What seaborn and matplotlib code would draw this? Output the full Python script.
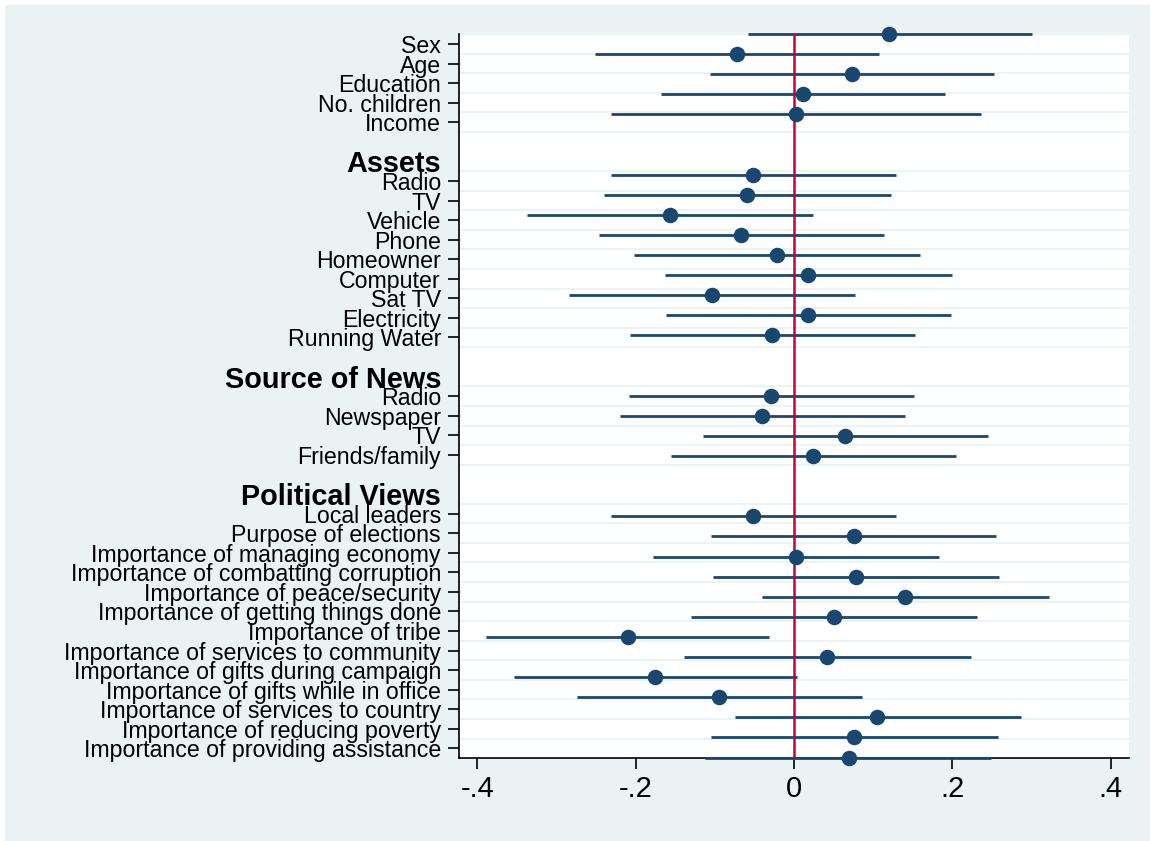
import numpy as np
import pandas as pd
import matplotlib
matplotlib.use("Agg")
import matplotlib.pyplot as plt
from matplotlib.patches import Rectangle
import seaborn as sns

# ---------------- data ----------------
demo_labels = ["Sex", "Age", "Education", "No. children", "Income"]
demo_coef = [0.120, -0.072, 0.073, 0.011, 0.002]
demo_lo = [-0.058, -0.251, -0.106, -0.168, -0.231]
demo_hi = [0.301, 0.107, 0.253, 0.191, 0.236]

assets_header = "Assets"
assets_labels = ["Radio", "TV", "Vehicle", "Phone", "Homeowner", "Computer",
                 "Sat TV", "Electricity", "Running Water"]
assets_coef = [-0.052, -0.059, -0.157, -0.067, -0.021, 0.018, -0.104, 0.018, -0.028]
assets_lo = [-0.231, -0.240, -0.337, -0.246, -0.202, -0.163, -0.284, -0.162, -0.207]
assets_hi = [0.129, 0.122, 0.024, 0.114, 0.159, 0.200, 0.077, 0.198, 0.153]

news_header = "Source of News"
news_labels = ["Radio", "Newspaper", "TV", "Friends/family"]
news_coef = [-0.029, -0.040, 0.064, 0.024]
news_lo = [-0.208, -0.220, -0.115, -0.155]
news_hi = [0.152, 0.140, 0.245, 0.205]

pol_header = "Political Views"
pol_labels = ["Local leaders", "Purpose of elections",
              "Importance of managing economy",
              "Importance of combatting corruption",
              "Importance of peace/security",
              "Importance of getting things done",
              "Importance of tribe",
              "Importance of services to community",
              "Importance of gifts during campaign",
              "Importance of gifts while in office",
              "Importance of services to country",
              "Importance of reducing poverty",
              "Importance of providing assistance"]
pol_coef = [-0.052, 0.076, 0.003, 0.078, 0.140, 0.051, -0.210, 0.042,
            -0.176, -0.095, 0.105, 0.076, 0.069]
pol_lo = [-0.231, -0.105, -0.178, -0.102, -0.040, -0.130, -0.389, -0.139,
          -0.354, -0.274, -0.075, -0.105, -0.112]
pol_hi = [0.129, 0.255, 0.183, 0.259, 0.322, 0.231, -0.032, 0.224,
          0.004, 0.086, 0.287, 0.257, 0.249]

xticks = [-0.4, -0.2, 0.0, 0.2, 0.4]
xtick_labels = ["-.4", "-.2", "0", ".2", ".4"]

groups = [
    (None, demo_labels, demo_coef, demo_lo, demo_hi),
    (assets_header, assets_labels, assets_coef, assets_lo, assets_hi),
    (news_header, news_labels, news_coef, news_lo, news_hi),
    (pol_header, pol_labels, pol_coef, pol_lo, pol_hi),
]

# ---------------- build rows ----------------
records = []
headers = []
row = 0
for gi, (hdr, labs, co, lo, hi) in enumerate(groups):
    if gi > 0:
        row += 1            # empty gap row
        headers.append((row, hdr))
        row += 1
    for l, c, a, b in zip(labs, co, lo, hi):
        records.append(dict(row=row, label=l, coef=c, lo=a, hi=b))
        row += 1
n_rows = row
df = pd.DataFrame(records)

# ---------------- style ----------------
BG = "#EAF2F3"
NAVY = "#1A476F"
RED = "#C10534"

sns.set_style("white")
plt.rcParams["font.family"] = ["Liberation Sans", "DejaVu Sans"]

fig = plt.figure(figsize=(11.5, 8.41), dpi=100)
fig.patch.set_facecolor("white")
fig.patches.append(Rectangle((5 / 1150, 0), 1, 1 - 5 / 841,
                             transform=fig.transFigure, facecolor=BG,
                             edgecolor="none", zorder=-10))
ax = fig.add_axes([459 / 1150, 1 - 757.5 / 841, 670 / 1150, 723.5 / 841])
ax.set_facecolor("white")

# label axis is slightly compressed relative to the marker axis
lab_scale = 0.9735
lab_off = 0.4976
header_rows = [h[0] for h in headers]

for k in range(n_rows):
    if k in header_rows:
        continue
    ax.axhline(lab_off + lab_scale * k - lab_scale / 2, color=BG, lw=1.3, zorder=0)

ax.hlines(df["row"], df["lo"], df["hi"], color=NAVY, lw=2.0, zorder=2,
          clip_on=False)
ax.axvline(0, color=RED, lw=1.8, zorder=3)
sns.scatterplot(data=df, x="coef", y="row", ax=ax, color=NAVY, s=125,
                edgecolor=NAVY, linewidth=0, zorder=4, legend=False,
                clip_on=False)

ax.set_xlim(-0.423, 0.423)
ax.set_ylim(n_rows - 1, 0)
ax.set_xticks(xticks)
ax.set_xticklabels(xtick_labels)
ax.set_yticks(lab_off + lab_scale * df["row"].to_numpy())
ax.set_yticklabels(df["label"])
ax.set_xlabel("")
ax.set_ylabel("")

ax.tick_params(axis="y", length=8, width=1.2, pad=5, labelsize=16.7,
               color="black", labelcolor="black", left=True)
ax.tick_params(axis="x", length=7.7, width=1.2, pad=5, labelsize=21,
               color="black", labelcolor="black", bottom=True)

for s in ["top", "right"]:
    ax.spines[s].set_visible(False)
for s in ["left", "bottom"]:
    ax.spines[s].set_color("black")
    ax.spines[s].set_linewidth(1.2)
    ax.spines[s].set_zorder(1)

trans = matplotlib.transforms.blended_transform_factory(fig.transFigure, ax.transData)
for r, h in headers:
    ax.text(441 / 1150, lab_off + lab_scale * r, h, transform=trans,
            ha="right", va="center_baseline", fontsize=20.8,
            fontweight="bold", color="black")

fig.savefig("out.png", dpi=100, facecolor=fig.get_facecolor())
